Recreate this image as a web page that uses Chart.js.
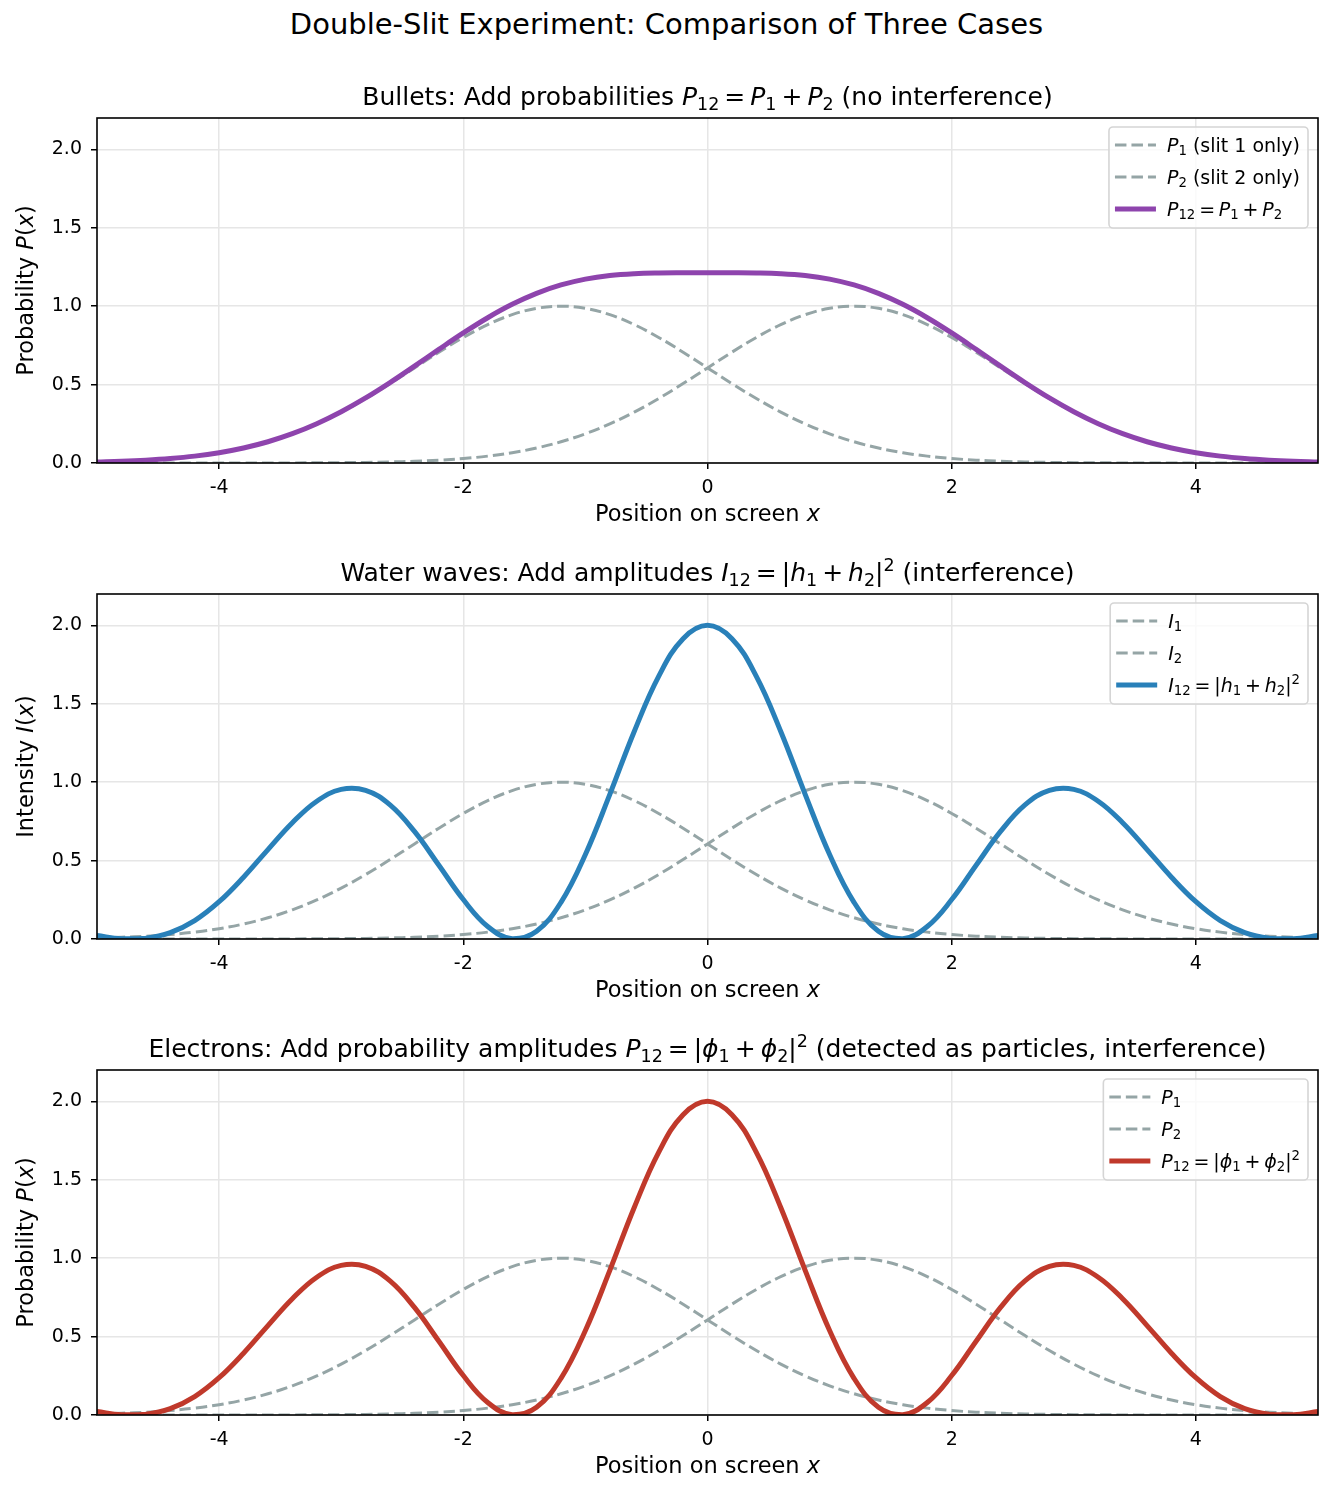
<!DOCTYPE html>
<html>
<head>
<meta charset="utf-8">
<script src="https://cdn.jsdelivr.net/npm/chart.js@4.4.1/dist/chart.umd.min.js"></script>
<style>
  body { margin: 0; background: #fff; }
  #wrap { position: relative; width: 1333px; height: 1498px; overflow: hidden; }
  h1 {
    position: absolute; left: 0; top: 7px; width: 1333px; margin: 0;
    text-align: center; font: normal 29px 'DejaVu Sans', sans-serif; line-height: 34px; color: #000;
  }
  canvas { position: absolute; left: 0; }
</style>
</head>
<body>
<div id="wrap">
  <h1>Double-Slit Experiment: Comparison of Three Cases</h1>
  <canvas id="c0" width="1333" height="476" style="top:70px"></canvas>
  <canvas id="c1" width="1333" height="476" style="top:546px"></canvas>
  <canvas id="c2" width="1333" height="476" style="top:1022px"></canvas>
</div>
<script>
// screen positions, step 0.2
const xs = [-5.0, -4.8, -4.6, -4.4, -4.2, -4.0, -3.8, -3.6, -3.4, -3.2,
  -3.0, -2.8, -2.6, -2.4, -2.2, -2.0, -1.8, -1.6, -1.4, -1.2,
  -1.0, -0.8, -0.6, -0.4, -0.2, 0.0, 0.2, 0.4, 0.6, 0.8,
  1.0, 1.2, 1.4, 1.6, 1.8, 2.0, 2.2, 2.4, 2.6, 2.8,
  3.0, 3.2, 3.4, 3.6, 3.8, 4.0, 4.2, 4.4, 4.6, 4.8, 5.0];

// single slit curves (same in all three panels)
const slit1 = [0.0066, 0.0111, 0.0181, 0.0286, 0.0439, 0.0657, 0.0956, 0.1353, 0.1863, 0.2494,
  0.3247, 0.4111, 0.5063, 0.6065, 0.7066, 0.8007, 0.8825, 0.9460, 0.9862, 1.0000,
  0.9862, 0.9460, 0.8825, 0.8007, 0.7066, 0.6065, 0.5063, 0.4111, 0.3247, 0.2494,
  0.1863, 0.1353, 0.0956, 0.0657, 0.0439, 0.0286, 0.0181, 0.0111, 0.0066, 0.0039,
  0.0022, 0.0012, 0.0006, 0.0003, 0.0002, 0.0001, 0.0000, 0.0000, 0.0000, 0.0000, 0.0000];
const slit2 = [0.0000, 0.0000, 0.0000, 0.0000, 0.0000, 0.0001, 0.0002, 0.0003, 0.0006, 0.0012,
  0.0022, 0.0039, 0.0066, 0.0111, 0.0181, 0.0286, 0.0439, 0.0657, 0.0956, 0.1353,
  0.1863, 0.2494, 0.3247, 0.4111, 0.5063, 0.6065, 0.7066, 0.8007, 0.8825, 0.9460,
  0.9862, 1.0000, 0.9862, 0.9460, 0.8825, 0.8007, 0.7066, 0.6065, 0.5063, 0.4111,
  0.3247, 0.2494, 0.1863, 0.1353, 0.0956, 0.0657, 0.0439, 0.0286, 0.0181, 0.0111, 0.0066];

const bullets = [0.0066, 0.0111, 0.0181, 0.0286, 0.0439, 0.0658, 0.0958, 0.1356, 0.1869, 0.2506,
  0.3269, 0.4150, 0.5129, 0.6176, 0.7247, 0.8293, 0.9264, 1.0117, 1.0818, 1.1353,
  1.1725, 1.1954, 1.2072, 1.2118, 1.2129, 1.2130, 1.2129, 1.2118, 1.2072, 1.1954,
  1.1725, 1.1353, 1.0818, 1.0117, 0.9264, 0.8293, 0.7247, 0.6176, 0.5129, 0.4150,
  0.3269, 0.2506, 0.1869, 0.1356, 0.0958, 0.0658, 0.0439, 0.0286, 0.0181, 0.0111, 0.0066];

const waves = [0.0218, 0.0024, 0.0046, 0.0401, 0.1172, 0.2376, 0.3941, 0.5703, 0.7415, 0.8786,
  0.9542, 0.9482, 0.8551, 0.6860, 0.4703, 0.2515, 0.0797, 0.0014, 0.0494, 0.2340,
  0.5390, 0.9224, 1.3237, 1.6751, 1.9149, 2.0000, 1.9149, 1.6751, 1.3237, 0.9224,
  0.5390, 0.2340, 0.0494, 0.0014, 0.0797, 0.2515, 0.4703, 0.6860, 0.8551, 0.9482,
  0.9542, 0.8786, 0.7415, 0.5703, 0.3941, 0.2376, 0.1172, 0.0401, 0.0046, 0.0024, 0.0218];

const electrons = [0.0218, 0.0024, 0.0046, 0.0401, 0.1172, 0.2376, 0.3941, 0.5703, 0.7415, 0.8786,
  0.9542, 0.9482, 0.8551, 0.6860, 0.4703, 0.2515, 0.0797, 0.0014, 0.0494, 0.2340,
  0.5390, 0.9224, 1.3237, 1.6751, 1.9149, 2.0000, 1.9149, 1.6751, 1.3237, 0.9224,
  0.5390, 0.2340, 0.0494, 0.0014, 0.0797, 0.2515, 0.4703, 0.6860, 0.8551, 0.9482,
  0.9542, 0.8786, 0.7415, 0.5703, 0.3941, 0.2376, 0.1172, 0.0401, 0.0046, 0.0024, 0.0218];

const xTicks = [-4, -2, 0, 2, 4];
const yTicks = [0, 0.5, 1.0, 1.5, 2.0];

const FAMILY = "'DejaVu Sans', sans-serif";
const GREY = '#95a5a6';
const TICK_SIZE = 19;
const LABEL_SIZE = 22.5;
const TITLE_SIZE = 25;
const LEGEND_SIZE = 19;
const EQ = '\u2009=\u2009';
const PLUS = '\u2009+\u2009';

// little rich-text pieces: normal, italic, subscript, superscript
const n = t => ({ t });
const it = t => ({ t, it: true });
const sub = t => ({ t, sub: true });
const sup = t => ({ t, sup: true });

function segFont(s, size) {
  const sz = (s.sub || s.sup) ? size * 0.7 : size;
  return (s.it ? 'italic ' : '') + sz + 'px ' + FAMILY;
}

function richWidth(ctx, segs, size) {
  let w = 0;
  for (const s of segs) {
    ctx.font = segFont(s, size);
    w += ctx.measureText(s.t).width;
  }
  return w;
}

function drawRich(ctx, segs, x, y, size, align) {
  let cx = align === 'center' ? x - richWidth(ctx, segs, size) / 2 : x;
  ctx.textAlign = 'left';
  ctx.textBaseline = 'alphabetic';
  ctx.fillStyle = '#000';
  for (const s of segs) {
    ctx.font = segFont(s, size);
    const dy = s.sub ? size * 0.2 : s.sup ? -size * 0.42 : 0;
    ctx.fillText(s.t, cx, y + dy);
    cx += ctx.measureText(s.t).width;
  }
}

const panels = [
  {
    id: 'c0',
    main: bullets,
    color: '#8e44ad',
    title: [n('Bullets: Add probabilities '), it('P'), sub('12'), n(EQ), it('P'), sub('1'),
      n(PLUS), it('P'), sub('2'), n(' (no interference)')],
    ylabel: [n('Probability '), it('P'), n('('), it('x'), n(')')],
    legend: [
      [it('P'), sub('1'), n(' (slit 1 only)')],
      [it('P'), sub('2'), n(' (slit 2 only)')],
      [it('P'), sub('12'), n(EQ), it('P'), sub('1'), n(PLUS), it('P'), sub('2')]
    ]
  },
  {
    id: 'c1',
    main: waves,
    color: '#2980b9',
    title: [n('Water waves: Add amplitudes '), it('I'), sub('12'), n(EQ + '|'), it('h'), sub('1'),
      n(PLUS), it('h'), sub('2'), n('|'), sup('2'), n(' (interference)')],
    ylabel: [n('Intensity '), it('I'), n('('), it('x'), n(')')],
    legend: [
      [it('I'), sub('1')],
      [it('I'), sub('2')],
      [it('I'), sub('12'), n(EQ + '|'), it('h'), sub('1'), n(PLUS), it('h'), sub('2'), n('|'), sup('2')]
    ]
  },
  {
    id: 'c2',
    main: electrons,
    color: '#c0392b',
    title: [n('Electrons: Add probability amplitudes '), it('P'), sub('12'), n(EQ + '|'), it('ϕ'), sub('1'),
      n(PLUS), it('ϕ'), sub('2'), n('|'), sup('2'), n(' (detected as particles, interference)')],
    ylabel: [n('Probability '), it('P'), n('('), it('x'), n(')')],
    legend: [
      [it('P'), sub('1')],
      [it('P'), sub('2')],
      [it('P'), sub('12'), n(EQ + '|'), it('ϕ'), sub('1'), n(PLUS), it('ϕ'), sub('2'), n('|'), sup('2')]
    ]
  }
];

function points(ys) {
  return xs.map((x, i) => ({ x: x, y: ys[i] }));
}

function roundRect(ctx, x, y, w, h, r) {
  ctx.beginPath();
  ctx.moveTo(x + r, y);
  ctx.arcTo(x + w, y, x + w, y + h, r);
  ctx.arcTo(x + w, y + h, x, y + h, r);
  ctx.arcTo(x, y + h, x, y, r);
  ctx.arcTo(x, y, x + w, y, r);
  ctx.closePath();
}

// frame, legend box and mixed-style texts
const decor = {
  id: 'decor',
  afterDatasetsDraw(chart) {
    const ctx = chart.ctx;
    const a = chart.chartArea;
    const p = chart.options.plugins.decor;
    ctx.save();
    ctx.strokeStyle = '#000';
    ctx.lineWidth = 1.6;
    ctx.setLineDash([]);
    ctx.strokeRect(a.left, a.top, a.right - a.left, a.bottom - a.top);

    // legend
    const handles = [
      { color: GREY, w: 3, dash: [11.5, 5] },
      { color: GREY, w: 3, dash: [11.5, 5] },
      { color: p.color, w: 5, dash: [] }
    ];
    const tw = Math.max(...p.legend.map(l => richWidth(ctx, l, LEGEND_SIZE)));
    const boxW = 58 + tw + 8;
    const right = a.right - 10;
    const left = right - boxW;
    const top = a.top + 9;
    roundRect(ctx, left, top, boxW, 101, 4);
    ctx.fillStyle = 'rgba(255,255,255,0.8)';
    ctx.fill();
    ctx.strokeStyle = '#d5d5d5';
    ctx.lineWidth = 1.6;
    ctx.stroke();
    p.legend.forEach((l, i) => {
      const cy = top + 18 + i * 32;
      const h = handles[i];
      ctx.beginPath();
      ctx.setLineDash(h.dash);
      ctx.lineWidth = h.w;
      ctx.strokeStyle = h.color;
      ctx.moveTo(left + 6, cy);
      ctx.lineTo(left + 47, cy);
      ctx.stroke();
      ctx.setLineDash([]);
      drawRich(ctx, l, left + 58, cy + LEGEND_SIZE * 0.35, LEGEND_SIZE, 'left');
    });

    // titles
    const midX = (a.left + a.right) / 2;
    drawRich(ctx, p.title, midX, 35, TITLE_SIZE, 'center');
    drawRich(ctx, [n('Position on screen '), it('x')], midX, 451, LABEL_SIZE, 'center');
    ctx.translate(33, (a.top + a.bottom) / 2);
    ctx.rotate(-Math.PI / 2);
    drawRich(ctx, p.ylabel, 0, 0, LABEL_SIZE, 'center');
    ctx.restore();
  }
};

panels.forEach(p => {
  new Chart(document.getElementById(p.id), {
    type: 'line',
    data: {
      datasets: [
        { data: points(p.main), borderColor: p.color, borderWidth: 5, order: 0 },
        { data: points(slit1), borderColor: GREY, borderWidth: 3, borderDash: [11.5, 5], order: 1 },
        { data: points(slit2), borderColor: GREY, borderWidth: 3, borderDash: [11.5, 5], order: 2 }
      ]
    },
    options: {
      responsive: false,
      animation: false,
      devicePixelRatio: 1,
      elements: {
        point: { radius: 0 },
        line: { tension: 0.4, fill: false, borderCapStyle: 'butt', borderJoinStyle: 'round' }
      },
      layout: { padding: { left: 0, right: 15, top: 48, bottom: 0 } },
      plugins: {
        legend: { display: false },
        tooltip: { enabled: false },
        decor: { title: p.title, ylabel: p.ylabel, legend: p.legend, color: p.color }
      },
      scales: {
        x: {
          type: 'linear',
          min: -5,
          max: 5,
          afterBuildTicks: s => { s.ticks = xTicks.map(v => ({ value: v })); },
          afterFit: s => { s.height = 83; },
          border: { display: false },
          grid: { color: '#e6e6e6', lineWidth: 1.5, tickLength: 6, tickColor: '#000', tickWidth: 1.5 },
          ticks: {
            color: '#000', padding: 8, maxRotation: 0,
            font: { family: FAMILY, size: TICK_SIZE },
            callback: v => String(v)
          }
        },
        y: {
          min: 0,
          max: 2.2,
          afterBuildTicks: s => { s.ticks = yTicks.map(v => ({ value: v })); },
          afterFit: s => { s.width = 97; },
          border: { display: false },
          grid: { color: '#e6e6e6', lineWidth: 1.5, tickLength: 6, tickColor: '#000', tickWidth: 1.5 },
          ticks: {
            color: '#000', padding: 9,
            font: { family: FAMILY, size: TICK_SIZE },
            callback: v => v.toFixed(1)
          }
        }
      }
    },
    plugins: [decor]
  });
});
</script>
</body>
</html>
